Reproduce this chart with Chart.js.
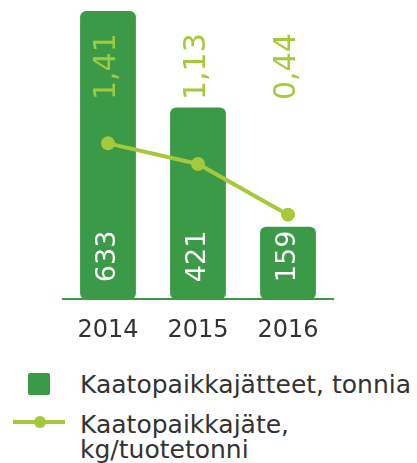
<!DOCTYPE html>
<html>
<head>
<meta charset="utf-8">
<script src="https://cdn.jsdelivr.net/npm/chart.js@4/dist/chart.umd.min.js"></script>
<style>
  html, body { margin:0; padding:0; background:#fff; }
  #wrap { position:relative; width:417px; height:463px; overflow:hidden; font-family:"DejaVu Sans", Verdana, sans-serif; color:#333; }
  #chartBox { position:absolute; left:0; top:0; width:417px; height:360px; }
  .lg { position:absolute; left:80px; font-size:25px; line-height:25px; white-space:nowrap; }
  .sw { position:absolute; }
</style>
</head>
<body>
<div id="wrap">
  <div id="chartBox"><canvas id="c"></canvas></div>
  <div class="sw" style="left:28px;top:373px;width:22px;height:22px;background:#3a9a48;border-radius:2px"></div>
  <div class="lg" id="lg1" style="top:372px"></div>
  <div class="sw" style="left:13px;top:420px;width:52px;height:4px;background:#a5c93a"></div>
  <div class="sw" style="left:34px;top:416px;width:12px;height:12px;background:#a5c93a;border-radius:50%"></div>
  <div class="lg" id="lg2" style="top:412px"></div>
</div>
<script>
// Kaatopaikkajätteet — bar + line combo
const YEARS = ['2014', '2015', '2016'];
const WASTE_TONNES = [633, 421, 159];
const WASTE_PER_TONNE = [1.41, 1.13, 0.44];
const BAR_NAME = 'Kaatopaikkajätteet, tonnia';
const LINE_NAME = ['Kaatopaikkajäte,', 'kg/tuotetonni'];

const BAR_COLOR = '#3a9a48';
const LINE_COLOR = '#a5c93a';

document.getElementById('lg1').textContent = BAR_NAME;
document.getElementById('lg2').innerHTML = LINE_NAME.join('<br>');

const fmt = v => v.toFixed(2).replace('.', ',');

// rotated value labels
const valueLabels = {
  id: 'valueLabels',
  afterDatasetsDraw(chart) {
    const ctx = chart.ctx;
    const area = chart.chartArea;
    ctx.save();
    ctx.textAlign = 'left';
    ctx.textBaseline = 'middle';
    chart.getDatasetMeta(1).data.forEach((bar, i) => {
      ctx.save();
      ctx.font = '27px "DejaVu Sans", Verdana, sans-serif';
      ctx.translate(bar.x, area.bottom - 17);
      ctx.rotate(-Math.PI / 2);
      ctx.fillStyle = '#fff';
      ctx.fillText(String(WASTE_TONNES[i]), 0, 0);
      ctx.restore();

      ctx.save();
      ctx.font = '30px "DejaVu Sans", Verdana, sans-serif';
      ctx.translate(bar.x - 1, 100);
      ctx.rotate(-Math.PI / 2);
      ctx.fillStyle = LINE_COLOR;
      ctx.fillText(fmt(WASTE_PER_TONNE[i]), 0, 0);
      ctx.restore();
    });
    ctx.restore();
  }
};

new Chart(document.getElementById('c'), {
  data: {
    labels: YEARS,
    datasets: [
      {
        type: 'line', label: LINE_NAME.join(' '), data: WASTE_PER_TONNE, yAxisID: 'y2',
        borderColor: LINE_COLOR, backgroundColor: LINE_COLOR, borderWidth: 4,
        pointRadius: 7, pointHoverRadius: 7, pointBackgroundColor: LINE_COLOR, pointBorderWidth: 0,
        tension: 0, order: 0, clip: false
      },
      {
        type: 'bar', label: BAR_NAME, data: WASTE_TONNES, yAxisID: 'y',
        backgroundColor: BAR_COLOR, borderRadius: 6, borderSkipped: false,
        barPercentage: 0.62, categoryPercentage: 1, order: 1
      }
    ]
  },
  options: {
    responsive: true, maintainAspectRatio: false, animation: false,
    layout: { autoPadding: false, padding: { left: 63, right: 84, top: 0, bottom: 6 } },
    plugins: { legend: { display: false }, tooltip: { enabled: false } },
    scales: {
      x: {
        grid: { display: false },
        border: { color: BAR_COLOR, width: 2 },
        ticks: { color: '#333', padding: 9, font: { family: '"DejaVu Sans", Verdana, sans-serif', size: 24 } }
      },
      y: { display: false, min: 0, max: 657 },
      y2: { display: false, min: -0.71, max: 3.36 }
    }
  },
  plugins: [valueLabels]
});
</script>
</body>
</html>
